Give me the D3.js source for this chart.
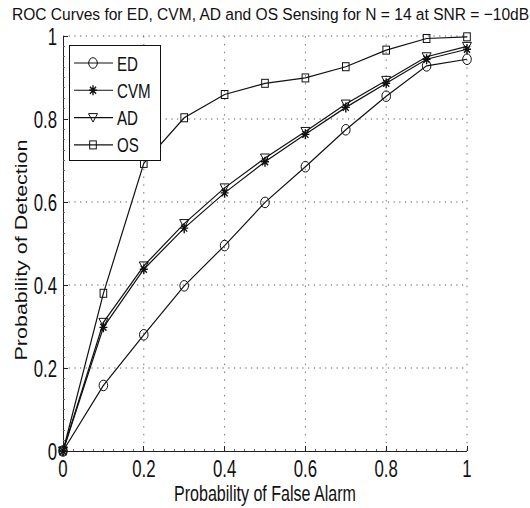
<!DOCTYPE html>
<meta charset="utf-8">
<head>
<script src="https://d3js.org/d3.v7.min.js"></script>
<style>
  body { margin: 0; background: #fff; overflow: hidden; }
  text { font-family: "Liberation Sans", Arial, sans-serif; fill: #111; }
</style>
</head>
<body>
<svg id="chart" width="530" height="508"></svg>
<script>

// data
var pfa = [0, 0.1, 0.2, 0.3, 0.4, 0.5, 0.6, 0.7, 0.8, 0.9, 1];
var ed  = [0, 0.158, 0.280, 0.398, 0.495, 0.599, 0.685, 0.774, 0.855, 0.928, 0.944];
var cvm = [0, 0.298, 0.438, 0.537, 0.622, 0.697, 0.763, 0.828, 0.886, 0.944, 0.968];
var ad  = [0, 0.310, 0.446, 0.548, 0.634, 0.706, 0.770, 0.836, 0.893, 0.950, 0.975];
var os  = [0, 0.380, 0.693, 0.803, 0.859, 0.886, 0.899, 0.926, 0.966, 0.994, 0.998];
var seriesNames = ["ED", "CVM", "AD", "OS"];
var tickVals = [0, 0.2, 0.4, 0.6, 0.8, 1];
var tickLabels = ["0", "0.2", "0.4", "0.6", "0.8", "1"];

var titleText = "ROC Curves for ED, CVM, AD and OS Sensing for N = 14 at SNR = \u221210dB";
var xLabel = "Probability of False Alarm";
var yLabel = "Probability of Detection";

var svg = d3.select("#chart");

var x = d3.scaleLinear().domain([0, 1]).range([63, 467]);
var y = d3.scaleLinear().domain([0, 1]).range([451, 36]);

// squeezed text helper (the figure looks squashed sideways)
function label(g, str, px, py, size, sx, anchor) {
  return g.append("text")
    .attr("transform", "translate(" + px + "," + py + ") scale(" + sx + ",1)")
    .attr("text-anchor", anchor || "start")
    .attr("font-size", size)
    .text(str);
}

// grid
var grid = svg.append("g");
tickVals.slice(1).forEach(function(t) {
  grid.append("line")
    .attr("x1", x(0)).attr("x2", x(1)).attr("y1", y(t)).attr("y2", y(t))
    .attr("stroke", "#555").attr("stroke-width", 1)
    .attr("stroke-dasharray", "1.2,4.5");
  grid.append("line")
    .attr("x1", x(t)).attr("x2", x(t)).attr("y1", y(0)).attr("y2", y(1))
    .attr("stroke", "#777").attr("stroke-width", 1)
    .attr("stroke-dasharray", "1.5,6.3");
});

// axes
var ax = svg.append("g").attr("stroke", "#222").attr("stroke-width", 1).attr("shape-rendering", "crispEdges");
ax.append("line").attr("x1", x(0)).attr("x2", x(0)).attr("y1", y(0)).attr("y2", y(1));
ax.append("line").attr("x1", x(0)).attr("x2", x(1)).attr("y1", y(0)).attr("y2", y(0));
d3.range(0, 1.0001, 0.025).forEach(function(t) {
  ax.append("line").attr("x1", x(t)).attr("x2", x(t)).attr("y1", y(0)).attr("y2", y(0) - 2).attr("stroke", "#666");
  ax.append("line").attr("x1", x(0)).attr("x2", x(0) + 2).attr("y1", y(t)).attr("y2", y(t)).attr("stroke", "#666");
});
tickVals.forEach(function(t) {
  ax.append("line").attr("x1", x(t)).attr("x2", x(t)).attr("y1", y(0)).attr("y2", y(0) - 5);
  ax.append("line").attr("x1", x(0)).attr("x2", x(0) + 5).attr("y1", y(t)).attr("y2", y(t));
});

// tick labels
var tl = svg.append("g");
tickVals.forEach(function(t, i) {
  label(tl, tickLabels[i], x(t), 477, 24, 0.7, "middle");
  label(tl, tickLabels[i], 57, y(t) + 8.5, 24, 0.7, "end");
});

// titles
label(svg, titleText, 12, 19.5, 17, 0.915, "start");
label(svg, xLabel, (x(0) + x(1)) / 2, 501, 22, 0.73, "middle");
svg.append("text")
  .attr("transform", "translate(27," + 250 + ") rotate(-90) scale(1," + 0.73 + ")")
  .attr("text-anchor", "middle")
  .attr("font-size", 21.5)
  .text(yLabel);

// markers
function drawMarker(g, kind, cx, cy) {
  var m = g.append("g").attr("fill", "none").attr("stroke", "#111").attr("stroke-width", 1);
  if (kind === "ED") {
    m.append("ellipse").attr("cx", cx).attr("cy", cy).attr("rx", 4.3).attr("ry", 5.3);
  } else if (kind === "CVM") {
    m.append("path").attr("d",
      "M" + cx + "," + (cy - 5) + "V" + (cy + 5) +
      "M" + (cx - 4) + "," + cy + "H" + (cx + 4) +
      "M" + (cx - 3) + "," + (cy - 3.5) + "L" + (cx + 3) + "," + (cy + 3.5) +
      "M" + (cx - 3) + "," + (cy + 3.5) + "L" + (cx + 3) + "," + (cy - 3.5))
      .attr("stroke-width", 1.4);
  } else if (kind === "AD") {
    m.append("path").attr("d",
      "M" + (cx - 4.5) + "," + (cy - 4) + "L" + (cx + 4.5) + "," + (cy - 4) + "L" + cx + "," + (cy + 4.5) + "Z");
  } else {
    m.append("rect").attr("x", cx - 3.3).attr("y", cy - 4).attr("width", 6.6).attr("height", 8);
  }
}

var allSeries = [ed, cvm, ad, os];
var line = d3.line()
  .x(function(d, i) { return x(pfa[i]); })
  .y(function(d) { return y(d); });

var plot = svg.append("g");
allSeries.forEach(function(vals, s) {
  plot.append("path")
    .attr("d", line(vals))
    .attr("fill", "none")
    .attr("stroke", "#111")
    .attr("stroke-width", 1.2);
  vals.forEach(function(v, i) {
    drawMarker(plot, seriesNames[s], x(pfa[i]), y(v));
  });
});

// legend
var lg = svg.append("g");
lg.append("rect")
  .attr("x", 69.5).attr("y", 45.5).attr("width", 91).attr("height", 115)
  .attr("fill", "#fff").attr("stroke", "#111").attr("stroke-width", 1);
seriesNames.forEach(function(name, i) {
  var ly = 63 + i * 27.3;
  lg.append("line").attr("x1", 74).attr("x2", 113).attr("y1", ly).attr("y2", ly)
    .attr("stroke", "#111").attr("stroke-width", 1.1);
  drawMarker(lg, name, 93, ly);
  label(lg, name, 117, ly + 7.5, 21, 0.72, "start");
});

</script>
</body>
</html>
